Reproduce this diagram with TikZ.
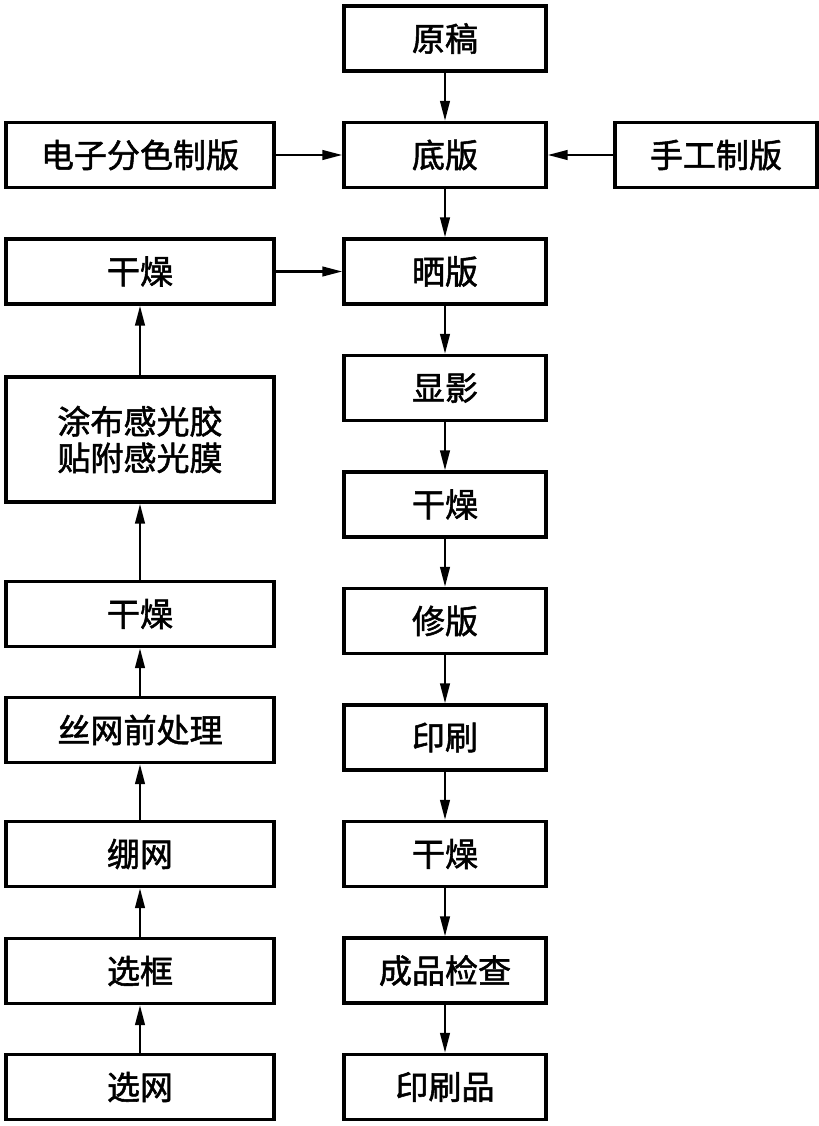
\documentclass[tikz,border=0pt]{standalone}
\usepackage{fontspec}
\setmainfont{Noto Sans CJK SC}[FakeBold=1.6]
\usetikzlibrary{arrows.meta}
\tikzset{
  box/.style={draw, line width=2.4pt, minimum height=1.625cm, inner sep=0pt, align=center, font=\fontsize{23.5}{26}\selectfont},
  mid/.style={box, minimum width=5.05cm},
  side/.style={box, minimum width=6.7cm},
  flow/.style={-{Triangle[length=0.5cm,width=0.24cm]}, line width=1.7pt},
}
\begin{document}
\begin{tikzpicture}
    \useasboundingbox (0,0) rectangle (20.475,-28.15);

	% middle column
	\foreach \i/\t in {1/原稿,2/底版,3/晒版,4/显影,5/干燥,6/修版,7/印刷,8/干燥,9/成品检查,10/印刷品}
	    {
		  \node[mid] (c\i) at (11.125,{-0.9625-2.9125*(\i-1)}) {\t};
	    }
	\foreach \i in {1,...,9}
	    {
		  \pgfmathtruncatemacro{\j}{\i+1}%
		  \draw[flow] (c\i) -- (c\j);
	    }

	% left column, from the top down
	\node[side] (l1) at (3.5,-3.875) {电子分色制版};
	\node[side] (l2) at (3.5,-6.7875) {干燥};
	\node[side, minimum height=3.125cm] (l3) at (3.5,-10.9875) {涂布感光胶\\贴附感光膜};
	\node[side] (l4) at (3.5,-15.35) {干燥};
	\node[side] (l5) at (3.5,-18.25) {丝网前处理};
	\node[side] (l6) at (3.5,-21.35) {绷网};
	\node[side] (l7) at (3.5,-24.275) {选框};
	\node[side] (l8) at (3.5,-27.175) {选网};
	\foreach \i in {3,...,8}
	    {
		  \pgfmathtruncatemacro{\j}{\i-1}%
		  \draw[flow] (l\i) -- (l\j);
	    }

	% right
	\node[mid] (r1) at (17.9,-3.875) {手工制版};

	  \draw[flow] (l1) -- (c2);
	  \draw[flow] (r1) -- (c2);
	  \draw[flow] (l2) -- (c3);
\end{tikzpicture}
\end{document}
